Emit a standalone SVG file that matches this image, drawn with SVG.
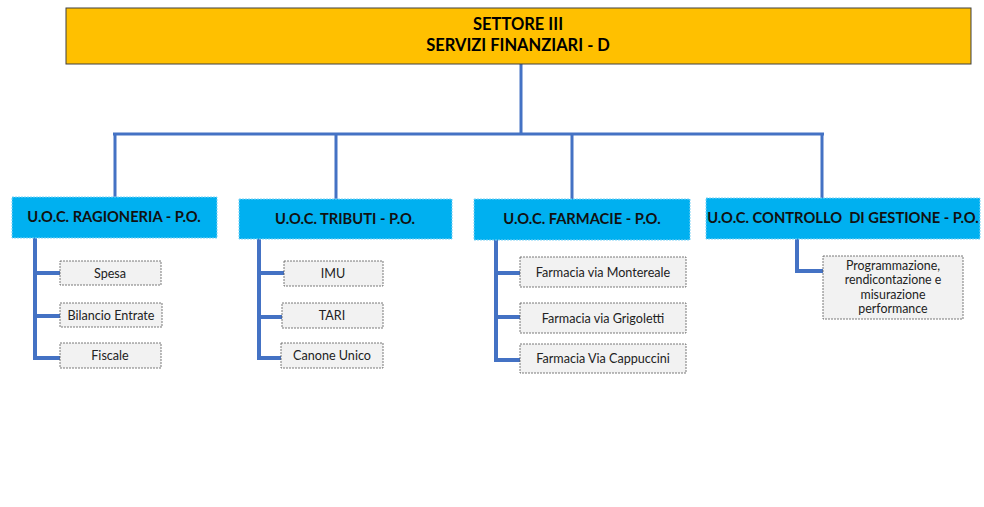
<svg xmlns="http://www.w3.org/2000/svg" width="984" height="507" viewBox="0 0 984 507">
<style>
.top{fill:#FFC000;stroke:#404040;stroke-width:1}
.uoc{fill:#00B0F0;stroke:#7FD3F5;stroke-width:1;stroke-dasharray:2 1}
.leaf{fill:#F2F2F2;stroke:#595959;stroke-width:0.8;stroke-dasharray:2 1}
.t{font-family:Lato,"Liberation Sans",sans-serif;text-anchor:middle;fill:#000}
.tt{font-size:16.5px;font-weight:bold}
.ut{font-size:14.7px;font-weight:bold;fill:#111}
.lt{font-size:12.6px;fill:#222}
.pt{font-size:12.4px;fill:#222}
.ln{fill:none;stroke:#4472C4;stroke-width:4}
.ln2{fill:none;stroke:#4472C4;stroke-width:3}
</style>
<rect width="984" height="507" fill="#fff"/>
<g id="connectors">
<path class="ln2" d="M521 64V134M113 134H824M115 134V197M336 134V199M572 134V199M822 134V198"/>
<path class="ln" d="M35 238V360M33 273H60M33 316H60M33 358H60"/>
<path class="ln" d="M259 239V360M257 273H284M257 317H282M257 358H281"/>
<path class="ln" d="M496 240V362M494 273H520M494 317H520M494 360H520"/>
<path class="ln" d="M797 239V271H823"/>
</g>
<g id="settore">
<rect class="top" x="66" y="8" width="905" height="56"/>
<text class="t tt" x="518" y="30">SETTORE III</text>
<text class="t tt" x="518" y="51">SERVIZI FINANZIARI - D</text>
</g>
<g id="ragioneria">
<rect class="uoc" x="12" y="197" width="205" height="41"/>
<text class="t ut" x="114" y="222">U.O.C. RAGIONERIA - P.O.</text>
</g>
<g id="tributi">
<rect class="uoc" x="239" y="199" width="213" height="40"/>
<text class="t ut" x="345" y="224">U.O.C. TRIBUTI - P.O.</text>
</g>
<g id="farmacie">
<rect class="uoc" x="474" y="199" width="216" height="41"/>
<text class="t ut" x="582" y="224">U.O.C. FARMACIE - P.O.</text>
</g>
<g id="controllo">
<rect class="uoc" x="706" y="198" width="274" height="41"/>
<text class="t ut" x="843" y="223" xml:space="preserve">U.O.C. CONTROLLO  DI GESTIONE - P.O.</text>
</g>
<g id="spesa"><rect class="leaf" x="60" y="261" width="101" height="24"/><text class="t lt" x="110" y="277.5">Spesa</text></g>
<g id="bilancio"><rect class="leaf" x="60" y="303" width="102" height="24"/><text class="t lt" x="111" y="319.5">Bilancio Entrate</text></g>
<g id="fiscale"><rect class="leaf" x="60" y="343" width="101" height="25"/><text class="t lt" x="110" y="360">Fiscale</text></g>
<g id="imu"><rect class="leaf" x="284" y="261" width="99" height="25"/><text class="t lt" x="333" y="278">IMU</text></g>
<g id="tari"><rect class="leaf" x="282" y="303" width="101" height="25"/><text class="t lt" x="332" y="320">TARI</text></g>
<g id="canone"><rect class="leaf" x="281" y="343" width="102" height="25"/><text class="t lt" x="332" y="360">Canone Unico</text></g>
<g id="montereale"><rect class="leaf" x="520" y="257" width="166" height="30"/><text class="t lt" x="603" y="276.5">Farmacia via Montereale</text></g>
<g id="grigoletti"><rect class="leaf" x="520" y="303" width="166" height="30"/><text class="t lt" x="603" y="322.5">Farmacia via Grigoletti</text></g>
<g id="cappuccini"><rect class="leaf" x="520" y="344" width="166" height="29"/><text class="t lt" x="603" y="362.5">Farmacia Via Cappuccini</text></g>
<g id="programmazione"><rect class="leaf" x="823" y="256" width="140" height="63"/>
<text class="t pt" x="893" y="270">Programmazione,</text>
<text class="t pt" x="893" y="284">rendicontazione e</text>
<text class="t pt" x="893" y="299">misurazione</text>
<text class="t pt" x="893" y="313">performance</text>
</g>
</svg>
